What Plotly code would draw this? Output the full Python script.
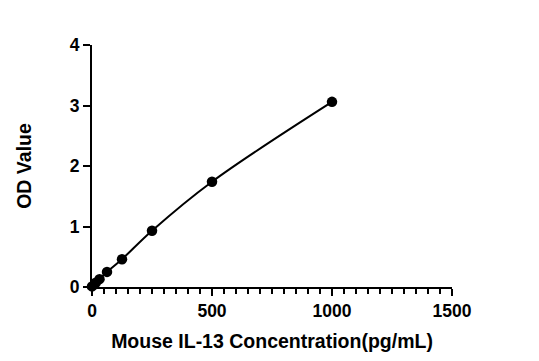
import plotly.graph_objects as go

conc = [0, 15.6, 31.25, 62.5, 125, 250, 500, 1000]
od = [0.01, 0.07, 0.13, 0.25, 0.46, 0.93, 1.74, 3.06]
x_ticks = [0, 500, 1000, 1500]
y_ticks = [0, 1, 2, 3, 4]

fig = go.Figure()
fig.add_trace(go.Scatter(x=conc, y=od, mode="lines", line=dict(color="black", width=2, shape="spline", smoothing=1.0),
                         cliponaxis=False, hoverinfo="skip", showlegend=False))
fig.add_trace(go.Scatter(x=conc, y=od, mode="markers", marker=dict(color="black", size=10.5),
                         cliponaxis=False, showlegend=False))

font = dict(family="Liberation Sans, Arial, sans-serif", color="black")
tickfont = dict(size=17.5, family="Liberation Sans, Arial, sans-serif", color="black")
fig.update_layout(
    width=539, height=361,
    margin=dict(l=84, r=95, t=37, b=82),
    paper_bgcolor="white", plot_bgcolor="white",
    font=font,
    xaxis=dict(range=[0, 1500], tickvals=x_ticks, ticktext=[f"<b>{v}</b>" for v in x_ticks],
               ticks="outside", ticklen=7, tickwidth=2, tickcolor="black",
               showline=True, linewidth=2.2, linecolor="black", showgrid=False, zeroline=False,
               tickfont=tickfont,
               minor=dict(dtick=50, ticks="outside", ticklen=5, tickwidth=2, tickcolor="black", showgrid=False),
               title=dict(text="<b>Mouse IL-13 Concentration(pg/mL)</b>", font=dict(size=19.5), standoff=14)),
    yaxis=dict(range=[0, 4], tickvals=y_ticks, ticktext=[f"<b>{v}</b>" for v in y_ticks],
               ticks="outside", ticklen=7, tickwidth=2, tickcolor="black",
               showline=True, linewidth=2.2, linecolor="black", showgrid=False, zeroline=False,
               tickfont=tickfont,
               title=dict(text="<b>OD Value</b>", font=dict(size=19.5), standoff=33)),
)
fig.write_html("out.html")
